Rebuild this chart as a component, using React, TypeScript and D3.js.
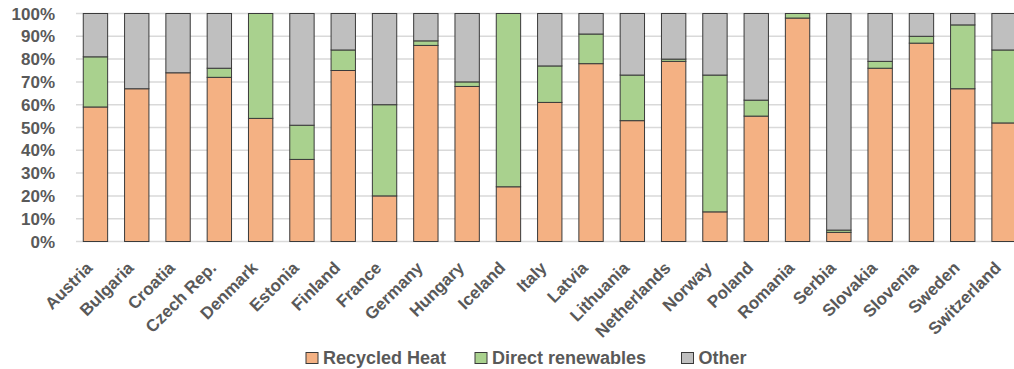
import React from "react";
import * as d3 from "d3";

const countries = [
  "Austria", "Bulgaria", "Croatia", "Czech Rep.", "Denmark", "Estonia", "Finland",
  "France", "Germany", "Hungary", "Iceland", "Italy", "Latvia", "Lithuania",
  "Netherlands", "Norway", "Poland", "Romania", "Serbia", "Slovakia", "Slovenia",
  "Sweden", "Switzerland",
];

// Shares in percent of total heat supply
const recycledHeat = [59, 67, 74, 72, 54, 36, 75, 20, 86, 68, 24, 61, 78, 53, 79, 13, 55, 98, 4, 76, 87, 67, 52];
const directRenewables = [22, 0, 0, 4, 46, 15, 9, 40, 2, 2, 76, 16, 13, 20, 1, 60, 7, 2, 1, 3, 3, 28, 32];
const other = [19, 33, 26, 24, 0, 49, 16, 40, 12, 30, 0, 23, 9, 27, 20, 27, 38, 0, 95, 21, 10, 5, 16];

const seriesNames = ["Recycled Heat", "Direct renewables", "Other"];
const seriesColors = ["#F4B183", "#A9D18E", "#BFBFBF"];
const yTicks = [0, 10, 20, 30, 40, 50, 60, 70, 80, 90, 100];

const W = 1014;
const H = 369;
const FONT = "'Liberation Sans', Arial, sans-serif";
const TEXT = "#595959";

export default function App() {
  const rows = countries.map((c, i) => ({
    country: c,
    recycled: recycledHeat[i],
    direct: directRenewables[i],
    other: other[i],
  }));
  const keys = ["recycled", "direct", "other"];
  const stacked = d3.stack<any>().keys(keys)(rows);

  const x = d3
    .scaleBand<string>()
    .domain(countries)
    .range([74.8, 1024.7])
    .paddingInner(0.41)
    .paddingOuter(0.205);
  const y = d3.scaleLinear().domain([0, 100]).range([241.5, 13.5]);

  const legendX = [306, 475, 681.5];

  return (
    <svg width={W} height={H} style={{ position: "absolute", left: 0, top: 0, background: "#fff" }}>
      {yTicks.map((t) => (
        <g key={t}>
          <line x1={76} x2={W} y1={y(t)} y2={y(t)} stroke="#D9D9D9" strokeWidth={1.5} />
          <text
            x={55}
            y={y(t)}
            dy="0.36em"
            textAnchor="end"
            fontFamily={FONT}
            fontWeight="bold"
            fontSize={17}
            fill={TEXT}
          >
            {t}%
          </text>
        </g>
      ))}
      {stacked.map((layer, li) => (
        <g key={layer.key}>
          {layer.map((d, i) =>
            d[1] - d[0] > 0 ? (
              <rect
                key={i}
                x={x(countries[i])!}
                width={x.bandwidth()}
                y={y(d[1])}
                height={y(d[0]) - y(d[1])}
                fill={seriesColors[li]}
                stroke="#3a3a3a"
                strokeWidth={1}
              />
            ) : null
          )}
        </g>
      ))}
      {countries.map((c) => {
        const cx = x(c)! + x.bandwidth() / 2;
        return (
          <text
            key={c}
            transform={`translate(${cx - 2},${269}) rotate(-45)`}
            textAnchor="end"
            fontFamily={FONT}
            fontWeight="bold"
            fontSize={17}
            fill={TEXT}
          >
            {c}
          </text>
        );
      })}
      {seriesNames.map((n, i) => (
        <g key={n}>
          <rect
            x={legendX[i]}
            y={352.5}
            width={12}
            height={11}
            fill={seriesColors[i]}
            stroke="#3a3a3a"
            strokeWidth={1}
          />
          <text
            x={legendX[i] + 17}
            y={364}
            fontFamily={FONT}
            fontWeight="bold"
            fontSize={18}
            fill={TEXT}
          >
            {n}
          </text>
        </g>
      ))}
    </svg>
  );
}
